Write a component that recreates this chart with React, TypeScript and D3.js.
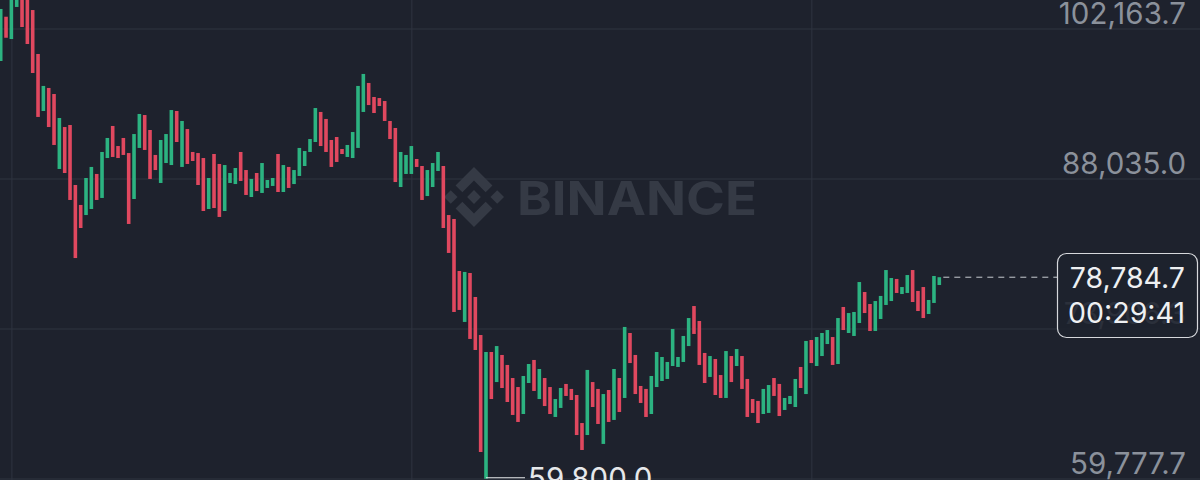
import React from "react";
import * as d3 from "d3";

// daily candles (open / close)
const opens = [
  99150, 103320, 101220, 104240, 105460, 104900, 103950, 99810, 94440, 96610,
  96040, 88980, 92930, 93120, 87470, 85590, 84640, 85210, 88510, 86250,
  90010, 93030, 91140, 91900, 90480, 86150, 90960, 94060, 92650, 90300,
  87660, 89540, 89350, 94440, 89170, 92740, 90580, 90480, 90010, 85210,
  90390, 89450, 85020, 87660, 87560, 90580, 88880, 86340, 88600, 86720,
  87190, 87380, 90390, 86810, 89170, 87560, 88320, 89260, 90580, 91520,
  94350, 93690, 91710, 91990, 90860, 90110, 90010, 90960, 94350, 97080,
  95760, 95660, 95380, 93500, 92840, 87280, 88510, 88510, 89920, 89260,
  86430, 87280, 88790, 89260, 84640, 84270, 79370, 74570, 79180, 76920,
  73340, 59800, 71740, 68910, 71460, 70520, 69290, 68440, 65900, 68820,
  70990, 67310, 69290, 68440, 65620, 66470, 68730, 68260, 67690, 65050,
  63920, 68910, 68260, 63080, 68160, 65340, 69290, 67410, 73530, 71460,
  68540, 68260, 65900, 68440, 69010, 69200, 70420, 70330, 70800, 72300,
  76070, 74660, 71650, 69390, 71080, 69570, 67410, 71360, 70420, 71360,
  69200, 67310, 67130, 65900, 66000, 69290, 68730, 66280, 66840, 66560,
  70330, 67780, 72870, 70420, 71360, 72490, 73150, 70610, 75980, 73530,
  73250, 74470, 77390, 76260, 73720, 74850, 76170, 76540, 78620, 77200,
  77300, 79460, 77490, 77860, 75320, 76360, 78050,
];
const closes = [
  104050, 101340, 105080, 105650, 102350, 100750, 98020, 93880, 96800, 92930,
  91240, 93780, 88600, 86060, 80590, 83420, 88130, 89170, 86060, 90580,
  91900, 90110, 90010, 90300, 83800, 92270, 94160, 90770, 88040, 88880,
  91710, 92270, 94530, 91520, 93500, 89450, 89730, 87470, 85020, 88130,
  85300, 84460, 89350, 88600, 89070, 87850, 86530, 88040, 86900, 89540,
  87940, 88130, 86810, 89350, 87190, 88880, 90960, 90670, 91800, 94720,
  91140, 90580, 89170, 89640, 90390, 91240, 92460, 96800, 97930, 95000,
  94250, 94910, 93500, 91800, 87750, 90580, 90300, 91140, 89170, 86060,
  88880, 89540, 90580, 83420, 81070, 75510, 75700, 79280, 72970, 71930,
  62320, 71740, 67310, 72300, 68350, 67030, 65810, 65150, 69480, 70610,
  68070, 70140, 66650, 65900, 67310, 68350, 67600, 67220, 63920, 62510,
  70050, 66560, 64960, 67780, 65150, 70140, 66090, 74100, 70700, 67780,
  66940, 65620, 69480, 71740, 71270, 70800, 73910, 71270, 73250, 74940,
  73440, 70520, 68820, 71360, 67690, 67410, 71830, 68910, 72020, 68260,
  65620, 66000, 65050, 68260, 68630, 67600, 65710, 67410, 67600, 69200,
  68350, 72780, 70700, 73150, 73530, 73810, 70520, 74940, 73810, 75410,
  75510, 78330, 75410, 73720, 76540, 77020, 79460, 78710, 77300, 77860,
  78990, 76450, 75600, 74940, 76640, 78900, 78784.7,
];

const priceTicks = [102163.7, 88035.0, 73906.3, 59777.7];
const timeGridIdx = [2.1, 77.1, 152.1];
const lastPrice = 78784.7;
const countdown = "00:29:41";

const W = 1200;
const H = 480;
const BG = "#1e222d";
const UP = "#2cb381";
const DOWN = "#e0485f";
const FONT = "Inter, 'Noto Sans', sans-serif";

const fmt = d3.format(",.1f");

// binance mark, 126.61 box
const logoPaths = [
  "M38.73,53.2L63.3,28.63L87.9,53.22L102.2,38.92L63.3,0L24.42,38.9Z",
  "M0,63.31L14.3,49.01L28.6,63.31L14.3,77.61Z",
  "M38.73,73.41L63.3,97.98L87.9,73.4L102.21,87.69L63.3,126.61L24.42,87.71Z",
  "M98,63.31L112.3,49.01L126.6,63.31L112.3,77.61Z",
  "M77.83,63.3L63.3,48.76L48.76,63.3L63.3,77.83Z",
];

export default function App() {
  const x = d3.scaleLinear().domain([0, opens.length - 1]).range([0.7, 939.3]);
  const y = d3.scaleLinear().domain([59777.7, 102163.7]).range([479, 29]);

  const lows = opens.map((o, i) => Math.min(o, closes[i]));
  const lowIdx = d3.minIndex(lows);
  const lowVal = lows[lowIdx];
  const barW = 3.6;

  return (
    <>
      <style>{`body{margin:0;background:${BG}}`}</style>
      <svg width={W} height={H} style={{ display: "block", background: BG }} fontFamily={FONT}>
        <rect width={W} height={H} fill={BG} />

        {/* grid */}
        {priceTicks.map((p) => (
          <line key={p} x1={0} x2={W} y1={y(p)} y2={y(p)} stroke="#2f3440" strokeWidth={1} />
        ))}
        {timeGridIdx.map((t) => (
          <line key={t} x1={x(t)} x2={x(t)} y1={0} y2={H} stroke="#2f3440" strokeWidth={1} />
        ))}

        {/* watermark */}
        <g fill="#353a45">
          <g transform={`translate(444,167) scale(${60 / 126.61})`}>
            {logoPaths.map((d, i) => (
              <path key={i} d={d} />
            ))}
          </g>
          <text x={517} y={215} fontSize={47} fontWeight={700} textLength={240} lengthAdjust="spacingAndGlyphs">
            BINANCE
          </text>
        </g>

        {/* candles */}
        <g>
          {opens.map((o, i) => {
            const c = closes[i];
            const top = y(Math.max(o, c));
            const bot = y(Math.min(o, c));
            return (
              <rect
                key={i}
                x={x(i) - barW / 2}
                y={top}
                width={barW}
                height={Math.max(1, bot - top)}
                fill={c >= o ? UP : DOWN}
              />
            );
          })}
        </g>

        {/* price labels */}
        {priceTicks.map((p) => (
          <text key={p} x={1186} y={y(p) - 5} textAnchor="end" fontSize={29.5} fill="#8b919b">
            {fmt(p)}
          </text>
        ))}

        {/* lowest marker */}
        <line x1={x(lowIdx)} x2={525} y1={y(lowVal) - 1} y2={y(lowVal) - 1} stroke="#e6e8ea" strokeWidth={1} />
        <text x={528} y={489} fontSize={29.5} fill="#e6e8ea">
          {fmt(lowVal)}
        </text>

        {/* last price */}
        <line
          x1={x(opens.length - 1) + 4}
          x2={1057}
          y1={y(lastPrice)}
          y2={y(lastPrice)}
          stroke="#c9ccd2"
          strokeWidth={1}
          strokeDasharray="6 5"
        />
        <rect x={1057.5} y={253.5} width={140} height={84} rx={9} fill={BG} fillOpacity={0.88} stroke="#d6d8dc" strokeWidth={1.2} />
        <text x={1185} y={288} textAnchor="end" fontSize={28.5} fill="#eef0f2">
          {fmt(lastPrice)}
        </text>
        <text x={1185} y={323} textAnchor="end" fontSize={28.5} fill="#eef0f2">
          {countdown}
        </text>
      </svg>
    </>
  );
}
